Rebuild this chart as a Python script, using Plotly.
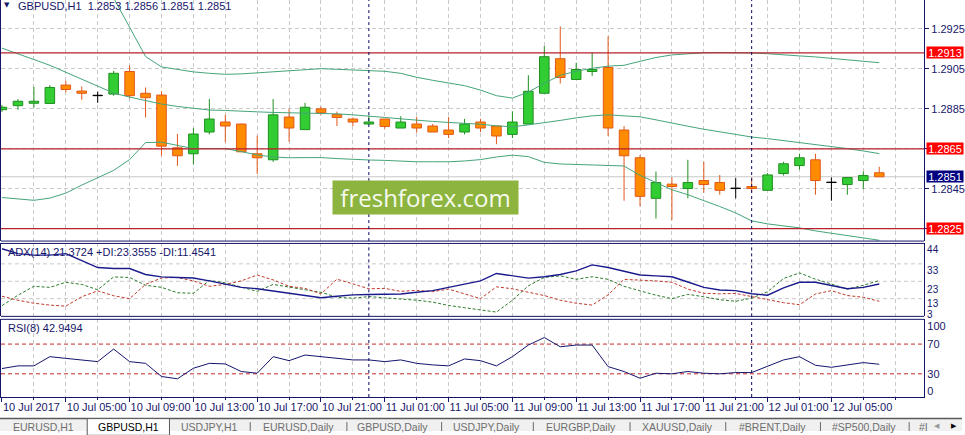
import plotly.graph_objects as go

# ---------------- data ----------------
opens = [1.28846, 1.28866, 1.28878, 1.28877, 1.28969, 1.28939, 1.28916, 1.28924, 1.29037, 1.28928,
         1.28919, 1.28655, 1.28625, 1.28734, 1.28784, 1.28774, 1.28625, 1.28595, 1.28809, 1.28746,
         1.28850, 1.28821, 1.28799, 1.28774, 1.28799, 1.28754, 1.28774, 1.28764, 1.28744, 1.28734,
         1.28784, 1.28764, 1.28722, 1.28774, 1.28928, 1.29101, 1.28997, 1.29037, 1.29057, 1.28744,
         1.28605, 1.28402, 1.28473, 1.28451, 1.28491, 1.28481, 1.28451, 1.28461, 1.28442, 1.28526,
         1.28566, 1.28595, 1.28481, 1.28471, 1.28491, 1.28530]
highs = [1.28869, 1.28899, 1.28960, 1.28969, 1.28990, 1.28962, 1.28936, 1.29040, 1.29068, 1.28957,
         1.28938, 1.28724, 1.28754, 1.28899, 1.28820, 1.28776, 1.28716, 1.28899, 1.28850, 1.28880,
         1.28861, 1.28836, 1.28807, 1.28816, 1.28799, 1.28813, 1.28810, 1.28774, 1.28809, 1.28800,
         1.28800, 1.28764, 1.28838, 1.29018, 1.29164, 1.29263, 1.29081, 1.29131, 1.29213, 1.28764,
         1.28618, 1.28536, 1.28506, 1.28595, 1.28585, 1.28519, 1.28503, 1.28506, 1.28529, 1.28585,
         1.28625, 1.28625, 1.28506, 1.28506, 1.28536, 1.28560]
lows = [1.28835, 1.28846, 1.28857, 1.28877, 1.28933, 1.28896, 1.28880, 1.28916, 1.28903, 1.28807,
        1.28615, 1.28564, 1.28572, 1.28722, 1.28683, 1.28633, 1.28524, 1.28585, 1.28685, 1.28745,
        1.28820, 1.28764, 1.28764, 1.28774, 1.28751, 1.28754, 1.28731, 1.28734, 1.28704, 1.28722,
        1.28734, 1.28673, 1.28704, 1.28774, 1.28928, 1.28977, 1.28997, 1.29015, 1.28714, 1.28390,
        1.28362, 1.28301, 1.28293, 1.28402, 1.28430, 1.28420, 1.28402, 1.28432, 1.28442, 1.28516,
        1.28546, 1.28420, 1.28390, 1.28420, 1.28449, 1.28510]
closes = [1.28858, 1.28888, 1.28888, 1.28957, 1.28947, 1.28928, 1.28916, 1.29028, 1.28916, 1.28906,
          1.28663, 1.28615, 1.28724, 1.28799, 1.28764, 1.28635, 1.28605, 1.28820, 1.28754, 1.28858,
          1.28830, 1.28807, 1.28784, 1.28784, 1.28762, 1.28784, 1.28754, 1.28734, 1.28722, 1.28774,
          1.28754, 1.28714, 1.28784, 1.28938, 1.29111, 1.29007, 1.29047, 1.29047, 1.28754, 1.28615,
          1.28412, 1.28481, 1.28461, 1.28481, 1.28471, 1.28442, 1.28451, 1.28451, 1.28519, 1.28575,
          1.28605, 1.28491, 1.28481, 1.28506, 1.28516, 1.28510]

bb_upper = [1.30139, 1.30040, 1.29941, 1.29841, 1.29742, 1.29643, 1.29544, 1.29405, 1.29261, 1.29112,
            1.29060, 1.29048, 1.29035, 1.29028, 1.29023, 1.29025, 1.29030, 1.29035, 1.29040, 1.29048,
            1.29051, 1.29048, 1.29045, 1.29043, 1.29038, 1.29028, 1.29008, 1.28993, 1.28981, 1.28966,
            1.28944, 1.28916, 1.28904, 1.28934, 1.28978, 1.29018, 1.29038, 1.29053, 1.29064, 1.29068,
            1.29088, 1.29107, 1.29120, 1.29127, 1.29131, 1.29132, 1.29132, 1.29130, 1.29126, 1.29122,
            1.29115, 1.29110, 1.29102, 1.29095, 1.29088, 1.29081]
bb_middle = [1.29154, 1.29127, 1.29097, 1.29068, 1.29033, 1.28998, 1.28961, 1.28929, 1.28909, 1.28892,
             1.28874, 1.28862, 1.28852, 1.28844, 1.28842, 1.28840, 1.28835, 1.28832, 1.28830, 1.28830,
             1.28828, 1.28825, 1.28820, 1.28815, 1.28807, 1.28800, 1.28792, 1.28787, 1.28782, 1.28778,
             1.28773, 1.28765, 1.28760, 1.28770, 1.28780, 1.28792, 1.28805, 1.28815, 1.28820, 1.28815,
             1.28810, 1.28795, 1.28778, 1.28763, 1.28748, 1.28735, 1.28720, 1.28709, 1.28701, 1.28691,
             1.28683, 1.28671, 1.28661, 1.28651, 1.28639, 1.28626]
bb_lower = [1.28406, 1.28398, 1.28392, 1.28403, 1.28428, 1.28468, 1.28507, 1.28542, 1.28596, 1.28681,
            1.28683, 1.28668, 1.28651, 1.28651, 1.28651, 1.28636, 1.28619, 1.28609, 1.28605, 1.28606,
            1.28606, 1.28601, 1.28596, 1.28594, 1.28592, 1.28587, 1.28585, 1.28585, 1.28585, 1.28589,
            1.28596, 1.28609, 1.28618, 1.28611, 1.28582, 1.28574, 1.28572, 1.28569, 1.28568, 1.28564,
            1.28517, 1.28482, 1.28445, 1.28420, 1.28391, 1.28361, 1.28329, 1.28289, 1.28274, 1.28264,
            1.28254, 1.28239, 1.28227, 1.28213, 1.28202, 1.28192]

adx = [41.7, 38.9, 38.0, 38.0, 38.9, 34.9, 30.9, 30.3, 30.3, 26.9,
       25.5, 25.2, 24.9, 23.2, 21.5, 19.5, 18.7, 17.5, 16.1, 15.0,
       13.5, 14.4, 15.2, 15.4, 15.5, 15.7, 16.7, 17.6, 19.5, 21.2,
       23.2, 27.5, 26.1, 24.8, 25.6, 26.9, 29.0, 32.4, 30.9, 28.9,
       26.6, 26.1, 25.6, 22.6, 19.5, 18.0, 17.6, 15.8, 15.0, 19.2,
       22.4, 22.4, 20.4, 18.7, 19.5, 21.4]
plus_di = [9.0, 15.0, 20.1, 19.5, 22.4, 21.2, 18.1, 25.5, 25.2, 20.7,
           19.5, 16.4, 16.1, 23.5, 22.1, 19.5, 17.2, 21.2, 19.5, 18.1,
           16.7, 13.8, 13.3, 14.2, 13.5, 12.9, 12.1, 11.0, 9.1, 7.8,
           6.6, 5.3, 12.1, 20.4, 25.2, 26.1, 24.1, 25.6, 24.1, 20.1,
           17.5, 15.0, 13.0, 15.5, 14.1, 12.4, 11.5, 13.3, 17.0, 24.6,
           27.8, 24.2, 21.4, 18.5, 20.7, 23.4]
minus_di = [14.4, 12.1, 10.4, 9.3, 8.7, 14.1, 17.5, 14.7, 13.0, 21.2,
            24.9, 25.2, 23.2, 20.1, 21.2, 23.2, 26.6, 23.8, 20.1, 18.9,
            15.8, 24.2, 21.5, 18.7, 18.9, 17.2, 17.8, 17.0, 18.5, 15.8,
            13.0, 19.8, 18.7, 16.7, 14.8, 12.1, 10.4, 9.3, 15.2, 24.1,
            23.8, 23.2, 22.4, 18.5, 16.1, 15.8, 16.0, 14.1, 12.3, 10.7,
            9.5, 15.7, 17.6, 14.8, 13.8, 11.5]
rsi = [37.1, 40.7, 40.7, 53.1, 50.8, 48.7, 46.4, 63.3, 46.4, 44.1,
       26.4, 23.3, 37.5, 44.1, 43.3, 33.1, 30.8, 53.1, 47.7, 55.3,
       53.1, 50.8, 48.7, 48.7, 46.4, 48.7, 44.1, 42.0, 40.7, 50.0,
       47.7, 40.7, 53.1, 68.7, 78.8, 66.4, 68.7, 68.7, 39.7, 33.1,
       24.1, 30.8, 30.0, 33.1, 30.8, 30.0, 31.7, 31.7, 40.7, 48.7,
       53.1, 41.5, 38.8, 42.0, 45.1, 42.9]

time_tick_bars = [0, 4, 8, 12, 16, 20, 24, 28, 32, 36, 40, 44, 48, 52]
time_tick_labels = ["10 Jul 2017", "10 Jul 05:00", "10 Jul 09:00", "10 Jul 13:00", "10 Jul 17:00",
                    "10 Jul 21:00", "11 Jul 01:00", "11 Jul 05:00", "11 Jul 09:00", "11 Jul 13:00",
                    "11 Jul 17:00", "11 Jul 21:00", "12 Jul 01:00", "12 Jul 05:00"]
day_separator_bars = [23, 47]
price_ticks = [1.2825, 1.2845, 1.2865, 1.2885, 1.2905, 1.2925]
level_prices = [1.2913, 1.2865, 1.2825]
bid_price = 1.2851
header_text = "GBPUSD,H1  1.2853 1.2856 1.2851 1.2851"
adx_title = "ADX(14) 21.3724 +DI:23.3555 -DI:11.4541"
rsi_title = "RSI(8) 42.9494"
adx_grid_levels = [13, 23, 33]
adx_label_values = [41.0, 29.0, 18.55, 10.2, 3.7]
adx_label_texts = ["44", "33", "23", "13", "3"]
rsi_levels = [70, 30]
rsi_label_values = [94, 70, 30, 6.8]
rsi_label_texts = ["100", "70", "30", "0"]
tab_names = ["EURUSD,H1", "GBPUSD,H1", "USDJPY,H1", "EURUSD,Daily", "GBPUSD,Daily", "USDJPY,Daily",
             "EURGBP,Daily", "XAUUSD,Daily", "#BRENT,Daily", "#SP500,Daily", "#I"]

# ---------------- styling ----------------
W, H = 965, 435
FONT = "Liberation Sans Narrow, Arial Narrow, Liberation Sans, Arial, sans-serif"
NAVY = "#16166a"
GRID = "#c9c9c9"
GDASH = "4px,3px"
UP_FILL, UP_EDGE = "#32cd32", "#1f8f1f"
DN_FILL, DN_EDGE = "#ff8c00", "#e2571a"
BAND = "#45a57a"


def px_x(p):
    return p / W


def px_y(p):
    return 1 - p / H


fig = go.Figure()
idx = list(range(len(opens)))


def add_candles(sel, fill, edge):
    if not sel:
        return
    wx, wy = [], []
    for i in sel:
        top = max(opens[i], closes[i])
        bot = min(opens[i], closes[i])
        wx += [i, i, None, i, i, None]
        wy += [highs[i], top, None, bot, lows[i], None]
    fig.add_trace(go.Bar(
        x=sel,
        base=[min(opens[i], closes[i]) for i in sel],
        y=[max(abs(closes[i] - opens[i]), 0.00002) for i in sel],
        width=0.6, marker=dict(color=fill, line=dict(color=edge, width=1)),
        xaxis="x", yaxis="y", hoverinfo="skip"))
    fig.add_trace(go.Scatter(x=wx, y=wy, mode="lines", line=dict(color=edge, width=1),
                             xaxis="x", yaxis="y", hoverinfo="skip"))


up = [i for i in idx if closes[i] > opens[i]]
dn = [i for i in idx if closes[i] < opens[i]]
dj = [i for i in idx if closes[i] == opens[i]]
add_candles(up, UP_FILL, UP_EDGE)
add_candles(dn, DN_FILL, DN_EDGE)
add_candles(dj, "#000000", "#000000")

for band in (bb_upper, bb_middle, bb_lower):
    fig.add_trace(go.Scatter(x=idx, y=band, mode="lines", line=dict(color=BAND, width=1),
                             xaxis="x", yaxis="y", hoverinfo="skip"))

# ADX panel
fig.add_trace(go.Scatter(x=idx, y=plus_di, mode="lines", line=dict(color="#2a7a2a", width=1, dash="3px,2px"),
                         xaxis="x", yaxis="y2", hoverinfo="skip"))
fig.add_trace(go.Scatter(x=idx, y=minus_di, mode="lines", line=dict(color="#c0392b", width=1, dash="3px,2px"),
                         xaxis="x", yaxis="y2", hoverinfo="skip"))
fig.add_trace(go.Scatter(x=idx, y=adx, mode="lines", line=dict(color="#1a1a8c", width=1.4),
                         xaxis="x", yaxis="y2", hoverinfo="skip"))

# RSI panel
fig.add_trace(go.Scatter(x=idx, y=rsi, mode="lines", line=dict(color="#14146e", width=1),
                         xaxis="x", yaxis="y3", hoverinfo="skip"))

# ---------------- axes ----------------
x_lo, x_hi = (1 - 2) / 16, (927 - 2) / 16
covered = set(level_prices)
price_tick_text = ["" if any(abs(v - c) < 1e-9 for c in covered) else "%.4f" % v for v in price_ticks]
fig.update_layout(
    width=W, height=H, margin=dict(l=0, r=0, t=0, b=0),
    paper_bgcolor="white", plot_bgcolor="white", showlegend=False, barmode="overlay",
    font=dict(family=FONT, size=11, color=NAVY),
    xaxis=dict(domain=[px_x(1), px_x(927)], range=[x_lo, x_hi], anchor="y3",
               tickmode="array", tickvals=time_tick_bars, ticktext=time_tick_labels,
               tickangle=0, ticklabelposition="outside right", ticks="outside", ticklen=4, tickcolor=NAVY,
               showgrid=True, gridcolor=GRID, griddash=GDASH, gridwidth=1,
               minor=dict(dtick=2, tick0=0, showgrid=True, gridcolor=GRID, griddash=GDASH,
                          ticks="outside", ticklen=2, tickcolor=NAVY),
               showline=True, linecolor=NAVY, linewidth=1, mirror=False, zeroline=False,
               tickfont=dict(family=FONT, size=11, color=NAVY)),
    yaxis=dict(domain=[px_y(243.3), 1], range=[1.28188, 1.29395], side="right", anchor="x",
               tickmode="array", tickvals=price_ticks, ticktext=price_tick_text,
               ticks="outside", ticklen=4, tickcolor=NAVY,
               showgrid=True, gridcolor=GRID, griddash=GDASH, gridwidth=1,
               showline=True, linecolor=NAVY, mirror=True, zeroline=False,
               tickfont=dict(family=FONT, size=11, color=NAVY)),
    yaxis2=dict(domain=[px_y(319.3), px_y(245.7)], range=[2.83, 44.74], side="right", anchor="x",
                tickmode="array", tickvals=adx_label_values, ticktext=adx_label_texts,
                ticks="", showgrid=False, showline=True, linecolor=NAVY, mirror=True, zeroline=False,
                tickfont=dict(family=FONT, size=10, color=NAVY)),
    yaxis3=dict(domain=[px_y(400.7), px_y(322.3)], range=[-1.2, 103.3], side="right", anchor="x",
                tickmode="array", tickvals=rsi_label_values, ticktext=rsi_label_texts,
                ticks="", showgrid=False, showline=True, linecolor=NAVY, mirror=True, zeroline=False,
                tickfont=dict(family=FONT, size=11, color=NAVY)),
)

shapes = []
# horizontal panel borders
for yr, yv in (("y domain", 0), ("y2 domain", 0), ("y2 domain", 1), ("y3 domain", 1)):
    shapes.append(dict(type="line", xref="x domain", yref=yr, x0=0, x1=1, y0=yv, y1=yv,
                       line=dict(color=NAVY, width=1), layer="above"))
# ADX grid
for lv in adx_grid_levels:
    shapes.append(dict(type="line", xref="x domain", yref="y2", x0=0, x1=1, y0=lv, y1=lv,
                       line=dict(color=GRID, width=1, dash=GDASH), layer="below"))
# RSI levels
for lv in rsi_levels:
    shapes.append(dict(type="line", xref="x domain", yref="y3", x0=0, x1=1, y0=lv, y1=lv,
                       line=dict(color="#c62828", width=1, dash="4px,3px"), layer="below"))
# bid line
shapes.append(dict(type="line", xref="x domain", yref="y", x0=0, x1=1, y0=bid_price, y1=bid_price,
                   line=dict(color="#c8c8c8", width=1), layer="below"))
# red horizontal levels
for lv in level_prices:
    shapes.append(dict(type="line", xref="x domain", yref="y", x0=0, x1=1, y0=lv, y1=lv,
                       line=dict(color="#b8202a", width=1.2), layer="above"))
# day separators
for b in day_separator_bars:
    for yr in ("y domain", "y2 domain", "y3 domain"):
        shapes.append(dict(type="line", xref="x", yref=yr, x0=b, x1=b, y0=0, y1=1,
                           line=dict(color="#0a0a60", width=1, dash="3px,3px"), layer="above"))
# tab strip
shapes.append(dict(type="rect", xref="paper", yref="paper", x0=0, x1=1, y0=0, y1=px_y(422.5),
                   fillcolor="#f0f0f0", line=dict(width=0), layer="above"))
shapes.append(dict(type="line", xref="paper", yref="paper", x0=0, x1=1, y0=px_y(422.5), y1=px_y(422.5),
                   line=dict(color="#5a5a5a", width=1.5), layer="above"))
shapes.append(dict(type="rect", xref="paper", yref="paper", x0=px_x(87.5), x1=px_x(170), y0=-0.01,
                   y1=px_y(422.5), fillcolor="white", line=dict(color="#5a5a5a", width=1), layer="above"))
for sx in (251, 348, 443, 535, 632, 728, 823, 912):
    shapes.append(dict(type="line", xref="paper", yref="paper", x0=px_x(sx), x1=px_x(sx),
                       y0=0, y1=px_y(426), line=dict(color="#6a6a6a", width=1), layer="above"))
fig.update_layout(shapes=shapes)

ann = []
# header
ann.append(dict(text="▼", xref="paper", yref="paper", x=px_x(7.5), y=px_y(5.5), xanchor="center",
                yanchor="middle", showarrow=False, font=dict(family="DejaVu Sans", size=7, color=NAVY)))
ann.append(dict(text=header_text, xref="paper", yref="paper", x=px_x(16), y=px_y(6), xanchor="left",
                yanchor="middle", showarrow=False, font=dict(family=FONT, size=11, color=NAVY)))
ann.append(dict(text=adx_title, xref="paper", yref="paper", x=px_x(6), y=px_y(254.5), xanchor="left",
                yanchor="middle", showarrow=False, font=dict(family=FONT, size=11, color=NAVY)))
ann.append(dict(text=rsi_title, xref="paper", yref="paper", x=px_x(6), y=px_y(331.5), xanchor="left",
                yanchor="middle", showarrow=False, font=dict(family=FONT, size=11, color=NAVY)))
# price level labels
for lv in level_prices:
    ann.append(dict(text="%.4f" % lv, xref="paper", yref="y", x=px_x(929), y=lv, xanchor="left",
                    yanchor="middle", showarrow=False, bgcolor="#ff0000", borderpad=0,
                    width=36, height=11, align="center",
                    font=dict(family=FONT, size=11, color="white")))
ann.append(dict(text="%.4f" % bid_price, xref="paper", yref="y", x=px_x(929), y=bid_price, xanchor="left",
                yanchor="middle", showarrow=False, bgcolor="#000080", borderpad=0,
                width=36, height=11, align="center",
                font=dict(family=FONT, size=11, color="white")))
# watermark
ann.append(dict(text="freshforex.com", xref="paper", yref="paper", x=px_x(426.5), y=px_y(199),
                xanchor="center", yanchor="middle", showarrow=False, bgcolor="#8cb43f",
                width=185, height=33, borderpad=0,
                font=dict(family="Open Sans, Noto Sans, sans-serif", size=24, color="#f6faee")))
# tabs
tab_centers = [43.5, 129, 210, 299, 394, 488, 583, 679.5, 775, 866.5, 926]
for name, cx in zip(tab_names, tab_centers):
    ann.append(dict(text=name, xref="paper", yref="paper", x=px_x(cx), y=px_y(430.5), xanchor="center",
                    yanchor="middle", showarrow=False,
                    font=dict(family="Liberation Sans, Arial, sans-serif", size=10.5,
                              color="#000000" if name == "GBPUSD,H1" else "#6e6e6e")))
ann.append(dict(text="◀", xref="paper", yref="paper", x=px_x(940), y=px_y(430), xanchor="center",
                yanchor="middle", showarrow=False, font=dict(family="DejaVu Sans", size=7, color="#9a9a9a")))
ann.append(dict(text="▶", xref="paper", yref="paper", x=px_x(957), y=px_y(430), xanchor="center",
                yanchor="middle", showarrow=False, font=dict(family="DejaVu Sans", size=7, color="#000000")))
fig.update_layout(annotations=ann)

fig.write_html("out.html", config={"displayModeBar": False},
               post_script="document.body.style.margin='0px';document.body.style.overflow='hidden';")
